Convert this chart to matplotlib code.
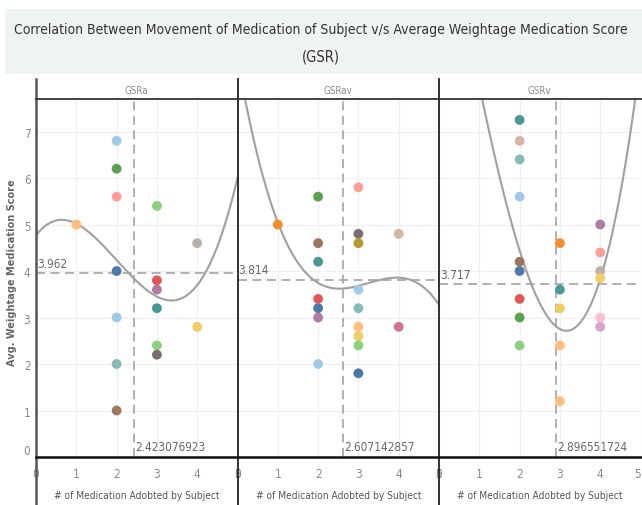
import numpy as np
import matplotlib
matplotlib.use('Agg')
import matplotlib.pyplot as plt
from matplotlib.lines import Line2D
from matplotlib.patches import Rectangle
from matplotlib import font_manager

# pick a narrow face if one is installed, it is closer to the tableau font
fonts = font_manager.fontManager.ttflist
names = {f.name for f in fonts}
stretch = 'normal'
if 'Liberation Sans Narrow' in names:
    base_font = 'Liberation Sans Narrow'
elif any(f.name == 'DejaVu Sans' and f.stretch in ('condensed', 'semi-condensed') for f in fonts):
    base_font = 'DejaVu Sans'
    stretch = 'condensed'
elif 'Roboto Condensed' in names:
    base_font = 'Roboto Condensed'
else:
    base_font = 'Roboto'
plt.rcParams['font.family'] = [base_font, 'DejaVu Sans']
plt.rcParams['font.stretch'] = stretch

# colours (tableau 20)
BLUE, LBLUE = '#4e79a7', '#a0cbe8'
ORANGE, LORANGE = '#f28e2b', '#ffbe7d'
GREEN, LGREEN = '#59a14f', '#8cd17d'
OLIVE, YELLOW = '#b6992d', '#f1ce63'
TEAL, LTEAL = '#499894', '#86bcb6'
RED, PINK = '#e15759', '#ff9d9a'
GRAY, LGRAY = '#79706e', '#bab0ac'
MAGENTA, LPINK = '#d37295', '#fabfd2'
PURPLE, LPURPLE = '#b07aa1', '#d4a6c8'
BROWN, TAN = '#9d7660', '#d7b5a6'

panels = ['GSRa', 'GSRav', 'GSRv']

# panel GSRa
gsra_x = [1, 2, 2, 2, 2, 2, 2, 2, 3, 3, 3, 3, 3, 3, 4, 4]
gsra_y = [5.0, 6.8, 6.2, 5.6, 4.0, 3.0, 2.0, 1.0, 5.4, 3.8, 3.6, 3.2, 2.4, 2.2, 4.6, 2.8]
gsra_c = [LORANGE, LBLUE, GREEN, PINK, BLUE, LBLUE, LTEAL, BROWN,
          LGREEN, RED, PURPLE, TEAL, LGREEN, GRAY, LGRAY, YELLOW]

# panel GSRav
gsrav_x = [1, 2, 2, 2, 2, 2, 2, 2, 3, 3, 3, 3, 3, 3, 3, 3, 3, 4, 4]
gsrav_y = [5.0, 5.6, 4.6, 4.2, 3.4, 3.2, 3.0, 2.0,
           5.8, 4.8, 4.6, 3.6, 3.2, 2.8, 2.6, 2.4, 1.8, 4.8, 2.8]
gsrav_c = [ORANGE, GREEN, BROWN, TEAL, RED, BLUE, PURPLE, LBLUE,
           PINK, GRAY, OLIVE, LBLUE, LTEAL, LORANGE, YELLOW, LGREEN, BLUE, TAN, MAGENTA]

# panel GSRv
gsrv_x = [2, 2, 2, 2, 2, 2, 2, 2, 2, 3, 3, 3, 3, 3, 4, 4, 4, 4, 4, 4]
gsrv_y = [7.25, 6.8, 6.4, 5.6, 4.2, 4.0, 3.4, 3.0, 2.4,
          4.6, 3.6, 3.2, 2.4, 1.2, 5.0, 4.4, 4.0, 3.85, 3.0, 2.8]
gsrv_c = [TEAL, TAN, LTEAL, LBLUE, BROWN, BLUE, RED, GREEN, LGREEN,
          ORANGE, TEAL, YELLOW, LORANGE, LORANGE, PURPLE, PINK, LGRAY, YELLOW, LPINK, LPURPLE]

# reference line values (averages shown in the chart)
avg_x = [2.423076923, 2.607142857, 2.896551724]
avg_y = [3.962, 3.814, 3.717]

# trend curve points (fitted with a cubic)
trend_x = [[0, 0.68, 1, 1.97, 2.28, 3, 3.45, 4, 4.2, 4.7, 5],
           [0.19, 1, 1.5, 1.87, 2.65, 3.97, 4.95],
           [1.07, 2.3, 3.19, 3.99, 4.87]]
trend_y = [[4.77, 5.11, 5.02, 4.2, 3.96, 3.55, 3.39, 3.67, 3.96, 4.91, 6.1],
           [7.7, 5.0, 4.2, 3.84, 3.62, 3.85, 3.34],
           [7.7, 3.7, 2.71, 3.8, 7.7]]

xs = [gsra_x, gsrav_x, gsrv_x]
ys = [gsra_y, gsrav_y, gsrv_y]
cs = [gsra_c, gsrav_c, gsrv_c]

W, H = 642, 506
fig = plt.figure(figsize=(W / 100, H / 100), dpi=100)
renderer = fig.canvas.get_renderer()


def fit_width(t, target_px):
    # shrink / grow a text so it spans about the same width as in the reference
    bb = t.get_window_extent(renderer)
    size = t.get_fontsize()
    span = bb.height if t.get_rotation() else bb.width
    t.set_fontsize(size * target_px / span)


# title box
fig.add_artist(Rectangle((5 / W, 1 - 75 / H), 1, 65 / H, transform=fig.transFigure,
                         facecolor='#f0f3f3', edgecolor='none', zorder=0))
title = fig.text(0.5, 1 - 30 / H,
                 'Correlation Between Movement of Medication of Subject v/s Average Weightage Medication Score',
                 ha='center', va='center', fontsize=12, color='#333333')
fit_width(title, 612)
fig.text(0.5, 1 - 57 / H, '(GSR)', ha='center', va='center', fontsize=title.get_fontsize() * 1.05,
         color='#333333')

left0 = 36
pw = 201.5
top, bottom = 100, 458

for i in range(3):
    l = left0 + i * pw
    ax = fig.add_axes([l / W, 1 - bottom / H, pw / W, (bottom - top) / H])
    ax.set_xlim(0, 5)
    ax.set_ylim(0, 7.7)
    for s in ax.spines.values():
        s.set_visible(False)
    ax.set_xticks(range(6))
    ax.set_yticks(range(8))
    ax.grid(True, color='#efefef', linewidth=0.8)
    ax.set_axisbelow(True)
    ax.tick_params(length=0, labelsize=8.5, colors='#888888', pad=7)
    if i > 0:
        ax.set_yticklabels([])
    else:
        ax.tick_params(axis='y', pad=4)
        ax.get_yticklabels()[0].set_va('bottom')
    if i == 2:
        # last "5" sits on the figure edge, keep it inside
        ax.get_xticklabels()[-1].set_ha('right')

    ax.scatter(xs[i], ys[i], c=cs[i], s=50, edgecolors='none', zorder=3)

    coef = np.polyfit(trend_x[i], trend_y[i], 3)
    xx = np.linspace(0, 5, 300)
    ax.plot(xx, np.polyval(coef, xx), color='#a0a0a0', linewidth=1.5, zorder=2)

    ax.axvline(avg_x[i], color='#aaaaaa', linestyle=(0, (5, 3)), linewidth=1.3, zorder=1)
    ax.axhline(avg_y[i], color='#aaaaaa', linestyle=(0, (5, 3)), linewidth=1.3, zorder=1)
    ax.text(0.03, avg_y[i] + 0.07, '%.3f' % avg_y[i], fontsize=8.5, color='#666666',
            ha='left', va='bottom')
    ax.text(avg_x[i] + 0.05, 0.08, '%.9f' % avg_x[i], fontsize=8.5, color='#666666',
            ha='left', va='bottom')

    fig.text((l + pw / 2) / W, 1 - 496 / H, '# of Medication Adobted by Subject',
             ha='center', va='center', fontsize=7.3, color='#555555')

    fig.text((l + pw / 2) / W, 1 - 91 / H, panels[i], ha='center', va='center',
             fontsize=7, color='#888888')

    # panel separator
    fig.add_artist(Line2D([l / W, l / W], [0, 1 - 80 / H], transform=fig.transFigure,
                          color='#555555' if i == 0 else '#222222',
                          linewidth=1.8 if i == 0 else 1.3))

# header bottom and x-axis lines
fig.add_artist(Line2D([left0 / W, 1], [1 - top / H, 1 - top / H], transform=fig.transFigure,
                      color='#333333', linewidth=1.3))
fig.add_artist(Line2D([left0 / W, 1], [1 - bottom / H, 1 - bottom / H], transform=fig.transFigure,
                      color='#111111', linewidth=1.8))

fig.text(12 / W, 1 - 273 / H, 'Avg. Weightage Medication Score', rotation=90, ha='center', va='center',
         fontsize=7.8, color='#666666', fontweight='bold')

fig.savefig('out.png', dpi=100)
